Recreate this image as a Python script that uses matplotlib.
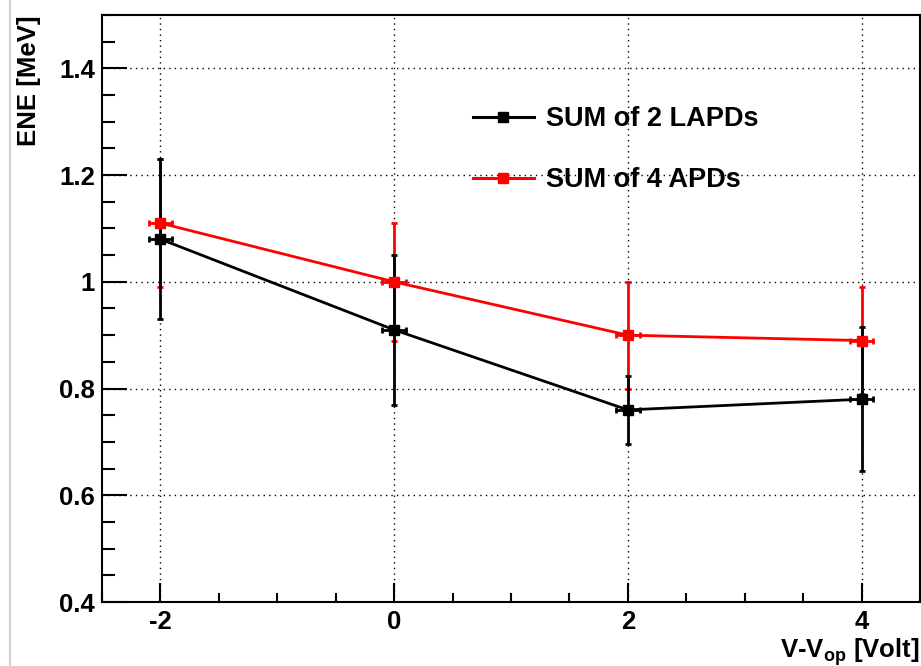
import matplotlib
matplotlib.use("Agg")
import matplotlib.pyplot as plt
from matplotlib.ticker import MultipleLocator
from matplotlib.lines import Line2D

plt.rcParams['font.family'] = ['Liberation Sans', 'DejaVu Sans']
plt.rcParams['font.weight'] = 'bold'
plt.rcParams['mathtext.fontset'] = 'custom'
plt.rcParams['mathtext.rm'] = 'Liberation Sans:bold'
plt.rcParams['mathtext.bf'] = 'Liberation Sans:bold'

# Data
voltage = [-2, 0, 2, 4]
x_err = [0.1, 0.1, 0.1, 0.1]
lapd_ene = [1.08, 0.91, 0.76, 0.78]
lapd_err = [0.15, 0.14, 0.063, 0.135]
apd_ene = [1.11, 1.00, 0.90, 0.89]
apd_err = [0.12, 0.11, 0.10, 0.10]
labels = ["SUM of 2 LAPDs", "SUM of 4 APDs"]

W, H = 921, 666
fig = plt.figure(figsize=(W / 100, H / 100), dpi=100)
ax = fig.add_axes([102 / W, (H - 602) / H, (920 - 102) / W, (602 - 15) / H])

ax.set_xlim(-2.5, 4.5)
ax.set_ylim(0.4, 1.5)

eb_kw = dict(fmt='none', elinewidth=2.0, capsize=2.5, capthick=2.0)
ax.errorbar(voltage, apd_ene, yerr=apd_err, xerr=x_err, ecolor='red', zorder=3, **eb_kw)
ax.errorbar(voltage, lapd_ene, yerr=lapd_err, xerr=x_err, ecolor='black', zorder=4, **eb_kw)
ax.plot(voltage, lapd_ene, color='black', lw=2, marker='s', ms=7, zorder=5)
ax.plot(voltage, apd_ene, color='red', lw=2, marker='s', ms=7, zorder=6)

ax.xaxis.set_minor_locator(MultipleLocator(0.5))
ax.yaxis.set_minor_locator(MultipleLocator(0.05))
ax.set_yticks([0.4, 0.6, 0.8, 1.0, 1.2, 1.4])
ax.set_yticklabels(['0.4', '0.6', '0.8', '1', '1.2', '1.4'])
ax.set_xticks([-2, 0, 2, 4])
ax.set_xticklabels(['-2', '0', '2', '4'])

ax.grid(True, which='major', linestyle=(0, (1, 3)), color='black', lw=1.0)
ax.set_axisbelow(True)

ax.tick_params(axis='y', which='major', direction='in', length=18, width=1.5, labelsize=18.5, pad=5)
ax.tick_params(axis='y', which='minor', direction='in', length=9.5, width=1.5)
ax.tick_params(axis='x', which='major', direction='in', length=14, width=1.5, labelsize=18.5, pad=6)
ax.tick_params(axis='x', which='minor', direction='in', length=6.5, width=1.5)
for lab in ax.get_xticklabels() + ax.get_yticklabels():
    lab.set_fontweight('bold')

for s in ax.spines.values():
    s.set_linewidth(1.5)
    s.set_color('black')

handles = [
    Line2D([], [], color='black', lw=2.2, marker='s', ms=7),
    Line2D([], [], color='red', lw=2.2, marker='s', ms=7),
]
leg = ax.legend(handles, labels, loc='upper left',
                bbox_to_anchor=((473 - 102) / (920 - 102), (602 - 106) / (602 - 15)),
                frameon=False, fontsize=19.5, handlelength=2.25, handletextpad=0.45,
                labelspacing=1.3, borderpad=0, borderaxespad=0)
for t in leg.get_texts():
    t.set_fontweight('bold')

fig.text(29 / W, 1 - 15 / H, 'ENE [MeV]', rotation=90, ha='center', va='top',
         fontsize=18.5, fontweight='bold')
fig.text(920 / W, 9 / H, r'V-V$_{\mathrm{op}}$ [Volt]', ha='right', va='baseline',
         fontsize=18.5, fontweight='bold')

# screenshot border
fig.add_artist(Line2D([10 / W, 10 / W], [0, 1], color='#d0d0d0', lw=1.5, transform=fig.transFigure))

fig.savefig('out.png', dpi=100)
